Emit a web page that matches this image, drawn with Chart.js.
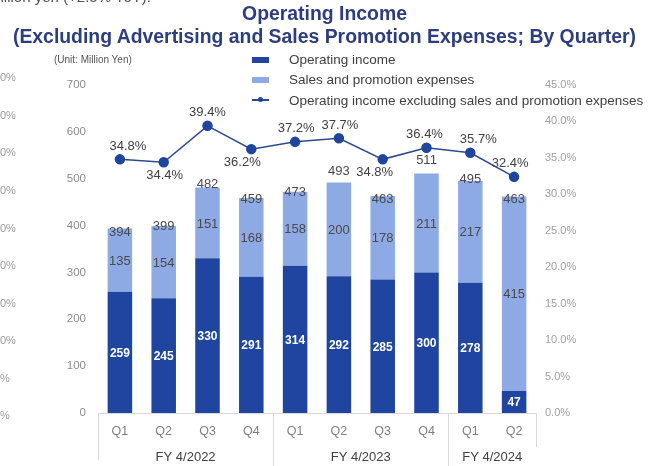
<!DOCTYPE html>
<html>
<head>
<meta charset="utf-8">
<script src="https://cdn.jsdelivr.net/npm/chart.js@4"></script>
<style>
  body { margin: 0; background: #fff; font-family: "Liberation Sans", Arial, sans-serif; }
  #wrap { position: relative; width: 649px; height: 466px; overflow: hidden; }
  #chart { position: absolute; left: 0; top: 0; }
  .t { position: absolute; white-space: nowrap; line-height: 1; }
  .title { left: 0; width: 649px; text-align: center; font-weight: bold; color: #2c3e80; font-size: 19.4px; }
  .frag { color: #9a9a9a; font-size: 11px; left: 0; }
  .leg { color: #404040; font-size: 13.5px; left: 289px; }
  .sw { position: absolute; left: 252px; width: 17px; height: 6px; }
</style>
</head>
<body>
<div id="wrap">
  <canvas id="chart" width="649" height="466"></canvas>

  <div class="t" style="left:-12px; top:-11px; font-size:15px; color:#505050;">Million yen (+2.5% YoY).</div>
  <div class="t title" style="top:4px;">Operating Income</div>
  <div class="t title" style="top:27px;">(Excluding Advertising and Sales Promotion Expenses; By Quarter)</div>
  <div class="t" style="left:54px; top:55px; font-size:10px; color:#555;">(Unit: Million Yen)</div>

  <div class="sw" style="top:57px; background:#1f45a0;"></div>
  <div class="t leg" style="top:53px;">Operating income</div>
  <div class="sw" style="top:77px; background:#8eaae4;"></div>
  <div class="t leg" style="top:73px;">Sales and promotion expenses</div>
  <div class="sw" style="top:99px; height:1.5px; background:#2b4a8f;"></div>
  <div class="sw" style="top:97px; left:258px; width:5px; height:5px; border-radius:50%; background:#1f45a0;"></div>
  <div class="t leg" style="top:94px;">Operating income excluding sales and promotion expenses</div>

  <div class="t frag" style="top:72px;">0%</div>
  <div class="t frag" style="top:110px;">0%</div>
  <div class="t frag" style="top:147px;">0%</div>
  <div class="t frag" style="top:185px;">0%</div>
  <div class="t frag" style="top:223px;">0%</div>
  <div class="t frag" style="top:260px;">0%</div>
  <div class="t frag" style="top:298px;">0%</div>
  <div class="t frag" style="top:335px;">0%</div>
  <div class="t frag" style="top:373px;">%</div>
  <div class="t frag" style="top:410px;">%</div>
</div>

<script>
const quarters = ["Q1", "Q2", "Q3", "Q4", "Q1", "Q2", "Q3", "Q4", "Q1", "Q2"];
const fiscalYears = ["FY 4/2022", "FY 4/2023", "FY 4/2024"];
const quartersPerYear = [4, 4, 2];

const operatingIncome = [259, 245, 330, 291, 314, 292, 285, 300, 278, 47];
const promotionExpenses = [135, 154, 151, 168, 158, 200, 178, 211, 217, 415];
const totals = [394, 399, 482, 459, 473, 493, 463, 511, 495, 463];
// operating income excluding promotion expenses, as % (right axis)
const marginExclPromo = [34.8, 34.4, 39.4, 36.2, 37.2, 37.7, 34.8, 36.4, 35.7, 32.4];

const leftTicks = { min: 0, max: 700, step: 100 };
const rightTicks = { min: 0, max: 45, step: 5 };

// where each % label sits around its point
const pctSide = ["above", "below", "above", "below", "above", "above", "below", "above", "above", "above"];
const pctShift = [8, 1, 0, -9, 1, 1, -8, -2, 8, -4];
const totalShift = [4, 0, -3, 1, 1, -11, 3, -13, -2, 3];

const FONT = "'Liberation Sans', Arial, sans-serif";

const valueLabels = {
  id: "valueLabels",
  afterDatasetsDraw(chart) {
    const ctx = chart.ctx;
    const y = chart.scales.y;
    const lineMeta = chart.getDatasetMeta(0);
    const darkMeta = chart.getDatasetMeta(1);
    const lightMeta = chart.getDatasetMeta(2);
    ctx.save();
    ctx.textAlign = "center";
    ctx.textBaseline = "middle";

    darkMeta.data.forEach((bar, i) => {
      ctx.font = "bold 12px " + FONT;
      ctx.fillStyle = "#ffffff";
      ctx.fillText(operatingIncome[i], bar.x, (bar.y + bar.base) / 2 + 1);
    });

    lightMeta.data.forEach((bar, i) => {
      ctx.font = "13px " + FONT;
      ctx.fillStyle = "#4a4a4a";
      ctx.fillText(promotionExpenses[i], bar.x, (bar.y + bar.base) / 2 + 1);
      ctx.fillText(totals[i], bar.x, y.getPixelForValue(totals[i]) + totalShift[i]);
    });

    lineMeta.data.forEach((pt, i) => {
      ctx.font = "13px " + FONT;
      ctx.fillStyle = "#404040";
      const dy = pctSide[i] === "above" ? -13 : 13;
      ctx.fillText(marginExclPromo[i].toFixed(1) + "%", pt.x + pctShift[i], pt.y + dy);
    });
    ctx.restore();
  }
};

// fiscal-year groups under the quarter labels
const yearAxis = {
  id: "yearAxis",
  afterDraw(chart) {
    const ctx = chart.ctx;
    const x = chart.scales.x;
    const top = chart.chartArea.bottom;
    const cat = x.width / quarters.length;
    ctx.save();
    ctx.strokeStyle = "#d9d9d9";
    ctx.lineWidth = 1;

    const vline = (px, bottom) => {
      ctx.beginPath();
      ctx.moveTo(Math.round(px) + 0.5, top);
      ctx.lineTo(Math.round(px) + 0.5, bottom);
      ctx.stroke();
    };

    let start = 0;
    vline(x.left, 460);
    ctx.font = "13px " + FONT;
    ctx.fillStyle = "#404040";
    ctx.textAlign = "center";
    ctx.textBaseline = "middle";
    quartersPerYear.forEach((n, g) => {
      const l = x.left + start * cat;
      const r = l + n * cat;
      ctx.fillText(fiscalYears[g], (l + r) / 2, 457);
      const last = g === quartersPerYear.length - 1;
      vline(r, last ? 447 : 466);
      start += n;
    });
    ctx.restore();
  }
};

new Chart(document.getElementById("chart"), {
  data: {
    labels: quarters,
    datasets: [
      {
        type: "line",
        label: "Operating income excluding sales and promotion expenses",
        data: marginExclPromo,
        yAxisID: "y1",
        borderColor: "#2b4a8f",
        borderWidth: 1.5,
        pointRadius: 4.5,
        pointBackgroundColor: "#1f45a0",
        pointBorderColor: "#1f45a0",
        tension: 0,
        order: 0
      },
      {
        type: "bar",
        label: "Operating income",
        data: operatingIncome,
        backgroundColor: "#1f45a0",
        yAxisID: "y",
        order: 1
      },
      {
        type: "bar",
        label: "Sales and promotion expenses",
        data: promotionExpenses,
        backgroundColor: "#8eaae4",
        yAxisID: "y",
        order: 1
      }
    ]
  },
  options: {
    responsive: false,
    animation: false,
    devicePixelRatio: 1,
    layout: { padding: { top: 85, left: 0, right: 0, bottom: 0 } },
    datasets: { bar: { barPercentage: 0.56, categoryPercentage: 1 } },
    plugins: { legend: { display: false }, tooltip: { enabled: false } },
    scales: {
      x: {
        stacked: true,
        grid: { display: false, drawTicks: false },
        border: { display: true, color: "#d9d9d9" },
        ticks: { color: "#7f7f7f", font: { family: FONT, size: 12.5 }, padding: 11 },
        afterFit: s => { s.height = 53; }
      },
      y: {
        stacked: true,
        position: "left",
        min: leftTicks.min,
        max: leftTicks.max,
        grid: { display: false, drawTicks: false },
        border: { display: false },
        ticks: { stepSize: leftTicks.step, color: "#8c8c8c", font: { family: FONT, size: 11.5 }, padding: 12 },
        afterFit: s => { s.width = 98; }
      },
      y1: {
        position: "right",
        min: rightTicks.min,
        max: rightTicks.max,
        grid: { display: false, drawTicks: false },
        border: { display: false },
        ticks: {
          stepSize: rightTicks.step,
          color: "#a0a0a0",
          font: { family: FONT, size: 11 },
          padding: 9,
          callback: v => v.toFixed(1) + "%"
        },
        afterFit: s => { s.width = 113; }
      }
    }
  },
  plugins: [valueLabels, yearAxis]
});
</script>
</body>
</html>
